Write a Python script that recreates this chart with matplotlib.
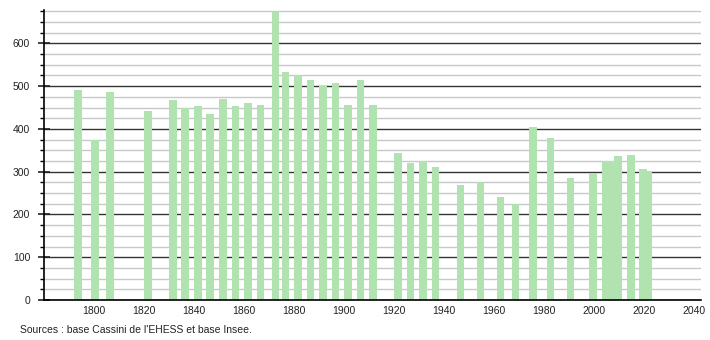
import matplotlib
matplotlib.use("Agg")
import matplotlib.pyplot as plt
from matplotlib.ticker import MultipleLocator

plt.rcParams['font.family'] = ['Liberation Sans', 'DejaVu Sans']

years = [1793, 1800, 1806, 1821, 1831, 1836, 1841, 1846, 1851, 1856, 1861, 1866,
         1872, 1876, 1881, 1886, 1891, 1896, 1901, 1906, 1911, 1921, 1926, 1931,
         1936, 1946, 1954, 1962, 1968, 1975, 1982, 1990, 1999, 2004, 2006, 2009,
         2014, 2019, 2021]
population = [491, 375, 486, 442, 467, 450, 453, 435, 470, 453, 460, 456,
              673, 533, 526, 514, 500, 507, 456, 514, 456, 344, 320, 324,
              311, 269, 277, 241, 224, 404, 379, 285, 298, 324, 324, 337,
              339, 306, 301]
x_ticks = [1800, 1820, 1840, 1860, 1880, 1900, 1920, 1940, 1960, 1980, 2000, 2020, 2040]
y_ticks = [0, 100, 200, 300, 400, 500, 600]
source_text = "Sources : base Cassini de l'EHESS et base Insee."

fig = plt.figure(figsize=(7.1, 3.4), dpi=100)
ax = fig.add_axes([44/710, 40/340, (700.7-44)/710, 290/340])

ax.bar([y + 0.5 for y in years], population, width=3.1, color='#b0e3b0',
       edgecolor='none', zorder=3)

ax.set_xlim(1780, 2042.5)
ax.set_ylim(0, 678)
ax.set_xticks(x_ticks)
ax.set_yticks(y_ticks)
ax.yaxis.set_minor_locator(MultipleLocator(25))

ax.grid(which='major', axis='y', color='#333333', linewidth=1.0, zorder=1)
ax.grid(which='minor', axis='y', color='#c8c8c8', linewidth=1.0, zorder=0)
ax.set_axisbelow(True)

for s in ['top', 'right']:
    ax.spines[s].set_visible(False)
ax.spines['left'].set_linewidth(1.2)
ax.spines['bottom'].set_linewidth(1.2)
ax.spines['left'].set_zorder(4)
ax.spines['bottom'].set_zorder(4)

ax.tick_params(axis='x', length=0, pad=4, labelsize=7.5, colors='#222222')
ax.tick_params(axis='y', which='major', direction='inout', length=8, width=1.2,
               pad=6, labelsize=7.5, colors='#222222')
ax.tick_params(axis='y', which='minor', direction='out', length=3, width=1.0)

fig.text(20/710, 1 - 330/340, source_text, fontsize=7.5, color='#222222',
         va='center', ha='left')

fig.savefig('out.png', dpi=100, facecolor='white')
